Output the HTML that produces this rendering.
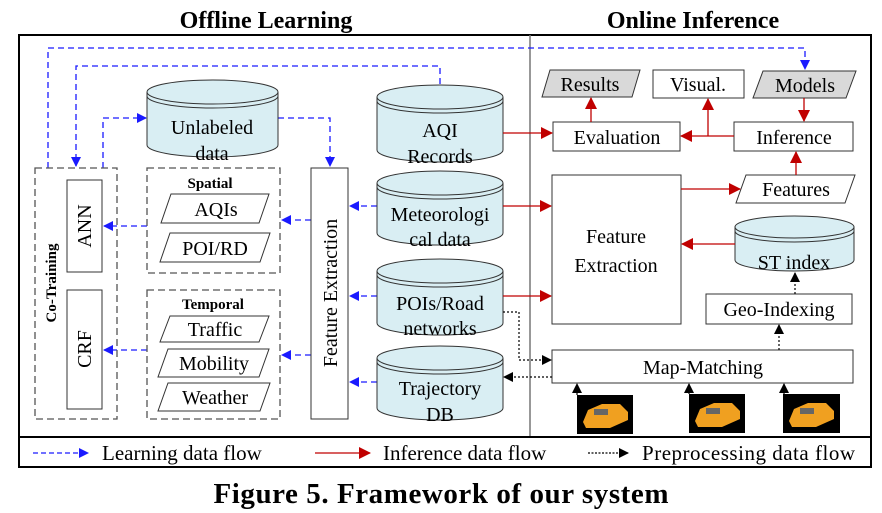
<!DOCTYPE html>
<html><head><meta charset="utf-8"><style>html,body{margin:0;padding:0;background:#fff}svg{display:block}</style></head>
<body>
<svg width="882" height="513" viewBox="0 0 882 513" xmlns="http://www.w3.org/2000/svg" font-family="Liberation Serif, serif">
<defs>
<marker id="ab" markerWidth="10" markerHeight="10" refX="9" refY="5" orient="auto" markerUnits="userSpaceOnUse"><path d="M0,0 L10,5 L0,10 z" fill="#1a1aff"/></marker>
<marker id="ar" markerWidth="12" markerHeight="12" refX="11" refY="6" orient="auto" markerUnits="userSpaceOnUse"><path d="M0,0 L12,6 L0,12 z" fill="#c00000"/></marker>
<marker id="ak" markerWidth="10" markerHeight="10" refX="9" refY="5" orient="auto" markerUnits="userSpaceOnUse"><path d="M0,0 L10,5 L0,10 z" fill="#000"/></marker>
</defs>
<text x="266" y="28" font-size="24" font-weight="bold" text-anchor="middle">Offline Learning</text>
<text x="693" y="28" font-size="24" font-weight="bold" text-anchor="middle">Online Inference</text>
<rect x="19" y="35" width="852" height="402" fill="none" stroke="#000" stroke-width="2"/>
<line x1="530" y1="35" x2="530" y2="437" stroke="#777" stroke-width="1.5"/>
<rect x="19" y="437" width="852" height="30" fill="none" stroke="#000" stroke-width="2"/>

<g fill="none" stroke="#1a1aff" stroke-width="1.3" stroke-dasharray="6,4">
<path d="M48,168 V48 H805 V69" marker-end="url(#ab)"/>
<path d="M440,84 V66 H76 V166" marker-end="url(#ab)"/>
<path d="M103,168 V118 H146" marker-end="url(#ab)"/>
<path d="M278,118 H330 V166" marker-end="url(#ab)"/>
<path d="M311,220 H282" marker-end="url(#ab)"/>
<path d="M311,355 H282" marker-end="url(#ab)"/>
<path d="M147,226 H104" marker-end="url(#ab)"/>
<path d="M147,350 H104" marker-end="url(#ab)"/>
<path d="M377,206 H350" marker-end="url(#ab)"/>
<path d="M377,296 H350" marker-end="url(#ab)"/>
<path d="M377,382 H350" marker-end="url(#ab)"/>
</g>

<g stroke="#333" stroke-width="1" fill="#d9eef3">
<path d="M147,92 V145 A65.5,12 0 0 0 278,145 V92"/><ellipse cx="212.5" cy="92" rx="65.5" ry="12"/><path d="M147,96 A65.5,12 0 0 0 278,96" fill="none"/>
<path d="M377,97 V150 A63,12 0 0 0 503,150 V97"/><ellipse cx="440" cy="97" rx="63" ry="12"/><path d="M377,101 A63,12 0 0 0 503,101" fill="none"/>
<path d="M377,183 V233 A63,12 0 0 0 503,233 V183"/><ellipse cx="440" cy="183" rx="63" ry="12"/><path d="M377,187 A63,12 0 0 0 503,187" fill="none"/>
<path d="M377,271 V323 A63,12 0 0 0 503,323 V271"/><ellipse cx="440" cy="271" rx="63" ry="12"/><path d="M377,275 A63,12 0 0 0 503,275" fill="none"/>
<path d="M377,358 V408 A63,12 0 0 0 503,408 V358"/><ellipse cx="440" cy="358" rx="63" ry="12"/><path d="M377,362 A63,12 0 0 0 503,362" fill="none"/>
<path d="M735,227 V260 A59.5,11 0 0 0 854,260 V227"/><ellipse cx="794.5" cy="227" rx="59.5" ry="11"/><path d="M735,231 A59.5,11 0 0 0 854,231" fill="none"/>
</g>
<g font-size="20" text-anchor="middle">
<text x="212" y="134">Unlabeled</text><text x="212" y="160">data</text>
<text x="440" y="137">AQI</text><text x="440" y="163">Records</text>
<text x="440" y="221">Meteorologi</text><text x="440" y="246">cal data</text>
<text x="440" y="310">POIs/Road</text><text x="440" y="335">networks</text>
<text x="440" y="395">Trajectory</text><text x="440" y="421">DB</text>
<text x="794" y="269">ST index</text>
</g>

<g fill="none" stroke="#555" stroke-width="1.3" stroke-dasharray="7,4">
<rect x="35" y="168" width="82" height="251"/>
<rect x="147" y="168" width="133" height="105"/>
<rect x="147" y="290" width="133" height="129"/>
</g>
<text transform="translate(56,283) rotate(-90)" font-size="15" font-weight="bold" text-anchor="middle">Co-Training</text>
<rect x="67" y="180" width="35" height="92" fill="#fff" stroke="#333"/>
<rect x="67" y="290" width="35" height="119" fill="#fff" stroke="#333"/>
<text transform="translate(91,226) rotate(-90)" font-size="20" text-anchor="middle">ANN</text>
<text transform="translate(91,349) rotate(-90)" font-size="20" text-anchor="middle">CRF</text>
<text x="210" y="188" font-size="15" font-weight="bold" text-anchor="middle">Spatial</text>
<text x="213" y="309" font-size="15" font-weight="bold" text-anchor="middle">Temporal</text>
<g fill="#fff" stroke="#333">
<polygon points="171,194 269,194 259,223 161,223"/>
<polygon points="170,233 270,233 260,262 160,262"/>
<polygon points="170,316 269,316 259,342 160,342"/>
<polygon points="168,349 269,349 259,377 158,377"/>
<polygon points="168,383 270,383 260,411 158,411"/>
</g>
<g font-size="20" text-anchor="middle">
<text x="216" y="216">AQIs</text><text x="215" y="255">POI/RD</text>
<text x="215" y="336">Traffic</text><text x="214" y="370">Mobility</text><text x="215" y="404">Weather</text>
</g>
<rect x="311" y="168" width="37" height="251" fill="#fff" stroke="#333"/>
<text transform="translate(337,293) rotate(-90)" font-size="20" text-anchor="middle">Feature Extraction</text>

<g stroke="#333">
<polygon points="550,70 640,70 632,97 542,97" fill="#d9d9d9"/>
<rect x="653" y="70" width="91" height="28" fill="#fff"/>
<polygon points="763,71 856,71 846,98 753,98" fill="#d9d9d9"/>
<rect x="553" y="122" width="127" height="29" fill="#fff"/>
<rect x="734" y="122" width="119" height="29" fill="#fff"/>
<polygon points="746,175 855,175 845,203 736,203" fill="#fff"/>
<rect x="552" y="175" width="129" height="149" fill="#fff"/>
<rect x="706" y="294" width="146" height="30" fill="#fff"/>
<rect x="552" y="350" width="301" height="33" fill="#fff"/>
</g>
<g font-size="20" text-anchor="middle">
<text x="590" y="91">Results</text><text x="698" y="91">Visual.</text><text x="805" y="92">Models</text>
<text x="617" y="144">Evaluation</text><text x="794" y="144">Inference</text>
<text x="796" y="196">Features</text>
<text x="616" y="243">Feature</text><text x="616" y="272">Extraction</text>
<text x="779" y="316">Geo-Indexing</text>
<text x="703" y="374">Map-Matching</text>
</g>

<g fill="none" stroke="#c00000" stroke-width="1.3">
<path d="M503,133 H552" marker-end="url(#ar)"/>
<path d="M503,206 H551" marker-end="url(#ar)"/>
<path d="M503,296 H551" marker-end="url(#ar)"/>
<path d="M681,189 H740" marker-end="url(#ar)"/>
<path d="M735,244 H682" marker-end="url(#ar)"/>
<path d="M796,175 V152" marker-end="url(#ar)"/>
<path d="M804,98 V121" marker-end="url(#ar)"/>
<path d="M734,136 H681" marker-end="url(#ar)"/>
<path d="M708,136 V99" marker-end="url(#ar)"/>
<path d="M591,122 V98" marker-end="url(#ar)"/>
</g>
<g fill="none" stroke="#000" stroke-width="1.2" stroke-dasharray="2,2">
<path d="M503,312 H519 V360 H551" marker-end="url(#ak)"/>
<path d="M552,377 H504" marker-end="url(#ak)"/>
<path d="M795,294 V273" marker-end="url(#ak)"/>
<path d="M779,350 V325" marker-end="url(#ak)"/>
<path d="M577,395 V384" marker-end="url(#ak)"/>
<path d="M689,394 V384" marker-end="url(#ak)"/>
<path d="M784,394 V384" marker-end="url(#ak)"/>
</g>
<g>
<rect x="577" y="395" width="56" height="39" fill="#000"/>
<rect x="689" y="394" width="56" height="39" fill="#000"/>
<rect x="783" y="394" width="57" height="39" fill="#000"/>
<g fill="#f0a020">
<path d="M583,422 L588,410 L602,404 L620,404 L628,412 L628,420 L610,428 L586,428 z"/>
<path d="M695,421 L700,409 L714,403 L732,403 L740,411 L740,419 L722,427 L698,427 z"/>
<path d="M789,421 L794,409 L808,403 L826,403 L834,411 L834,419 L816,427 L792,427 z"/>
</g>
<g fill="#666"><rect x="594" y="409" width="14" height="6"/><rect x="706" y="408" width="14" height="6"/><rect x="800" y="408" width="14" height="6"/></g>
</g>

<path d="M33,453 H88" stroke="#1a1aff" stroke-width="1.3" stroke-dasharray="5,3" marker-end="url(#ab)"/>
<path d="M315,453 H370" stroke="#c00000" stroke-width="1.3" marker-end="url(#ar)"/>
<path d="M588,453 H628" stroke="#000" stroke-width="1.2" stroke-dasharray="2,1.5" marker-end="url(#ak)"/>
<g font-size="21"><text x="102" y="460">Learning data flow</text><text x="383" y="460">Inference data flow</text><text x="642" y="460" textLength="213">Preprocessing data  flow</text></g>
<text x="441" y="503" font-size="29" font-weight="bold" text-anchor="middle" textLength="455">Figure 5. Framework of our system</text>
</svg>
</body></html>
